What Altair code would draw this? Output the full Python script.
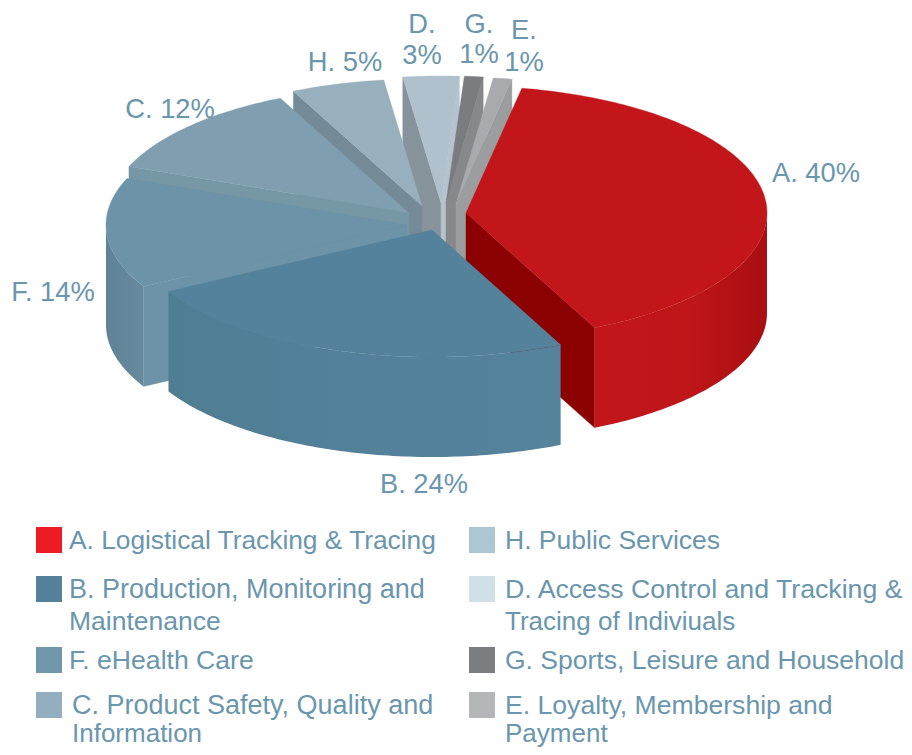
import math
import altair as alt
import pandas as pd

# ---- values
codes = ["A", "B", "F", "C", "H", "D", "G", "E"]
shares = [40, 24, 14, 12, 5, 3, 1, 1]
legend_left = [["A. Logistical Tracking & Tracing"], ["B. Production, Monitoring and", "Maintenance"],
               ["F. eHealth Care"], ["C. Product Safety, Quality and", "Information"]]
legend_right = [["H. Public Services"], ["D. Access Control and Tracking &", "Tracing of Indiviuals"],
                ["G. Sports, Leisure and Household"], ["E. Loyalty, Membership and", "Payment"]]
legend_colors_left = ["#ed1c24", "#55829a", "#7097aa", "#93afbf"]
legend_colors_right = ["#adc6d4", "#d0e0e7", "#7c7d80", "#b5b6b8"]

# ---- styling / layout
TOP = dict(A="#c2161b", B="#54829a", F="#6c93a7", C="#7f9eaf", H="#98afbd", D="#b0c0cc", G="#7a7c7f", E="#a9aaad")
START = dict(F="#6c93a7", C="#7697a5", H="#748a97", D="#87939a")
END = dict(A="#8b0000", D="#b4c3ce", G="#86888a", E="#9c9d9f")
SIDE = dict(A=[("#c2161b", 0), ("#bf161a", 0.55), ("#a90e10", 1)],
            B=[("#4f7d92", 0), ("#53819a", 0.5), ("#55839b", 1)],
            F=[("#5f8297", 0), ("#678a9d", 1)])
APEX = dict(A=(466, 213), B=(432, 230), F=(407, 225), C=(409, 213), H=(422, 206), D=(441, 203), G=(446, 203), E=(456, 204))
RX, RY, DEPTH, THETA0 = 301, 127, 100, 10.7
PAINT_ORDER = ["D", "G", "E", "H", "C", "F", "A", "B"]
TEXT = "#6a96ae"
FONT = "Liberation Sans"
LABEL_FS = 27.3
LEGEND_FS = {"A. Log": 26.3, "H. Pub": 26.5, "F. eHe": 26.6, "Mainte": 26.5, "Tracin": 26.0,
             "Inform": 26.0, "Paymen": 26.0, "E. Loy": 26.6, "G. Spo": 26.5, "D. Acc": 26.7}
X = alt.Scale(domain=[8, 904], nice=False, zero=False)
Y = alt.Scale(domain=[8, 747], nice=False, zero=False, reverse=True)

def ell(code, t):
    ax, ay = APEX[code]
    r = math.radians(t)
    return ax + RX * math.sin(r), ay - RY * math.cos(r)

spans = {}
t = THETA0
for c, s in zip(codes, shares):
    spans[c] = (t, t + s * 3.6)
    t += s * 3.6

def arc(code, a, b):
    n = max(2, int(abs(b - a)) + 2)
    return [ell(code, a + (b - a) * i / (n - 1)) for i in range(n)]

def poly(pts, fill):
    df = pd.DataFrame({"px": [p[0] for p in pts] + [pts[0][0]],
                       "py": [p[1] for p in pts] + [pts[0][1]]})
    df["i"] = range(len(df))
    stroke = fill if isinstance(fill, str) else "transparent"
    return alt.Chart(df).mark_line(filled=True, fill=fill, stroke=stroke, strokeWidth=0.4, interpolate="linear").encode(
        x=alt.X("px:Q", scale=X, axis=None),
        y=alt.Y("py:Q", scale=Y, axis=None),
        order="i:Q")

def grad(stops):
    return alt.Gradient(gradient="linear", x1=0, x2=1, y1=0, y2=0,
                        stops=[alt.GradientStop(color=c, offset=o) for c, o in stops])

layers = []
for c in PAINT_ORDER:
    a, b = spans[c]
    apex = APEX[c]
    if c in START:
        p = ell(c, a)
        layers.append(poly([apex, p, (p[0], p[1] + DEPTH), (apex[0], apex[1] + DEPTH)], START[c]))
    if c in END:
        p = ell(c, b)
        layers.append(poly([apex, p, (p[0], p[1] + DEPTH), (apex[0], apex[1] + DEPTH)], END[c]))
    if c in SIDE:
        lo, hi = max(a, 90), min(b, 270)
        top = arc(c, lo, hi)
        bot = [(x, y + DEPTH) for x, y in reversed(top)]
        layers.append(poly(top + bot, grad(SIDE[c])))
    layers.append(poly([apex] + arc(c, a, b), TOP[c]))

# ---- pie labels (drawn beneath the pie)
lab = pd.DataFrame({
    "t": ["A. 40%", "B. 24%", "F. 14%", "C. 12%", "H. 5%", "D.", "3%", "G.", "1%", "E.", "1%"],
    "px": [816, 424, 53, 170, 345, 422, 422, 479, 479, 524, 524],
    "py": [174, 485, 293, 110, 63, 25, 56, 25, 55, 31, 63]})
labels = alt.Chart(lab).mark_text(font=FONT, fontSize=LABEL_FS, color=TEXT, align="center", baseline="middle").encode(
    x=alt.X("px:Q", scale=X, axis=None), y=alt.Y("py:Q", scale=Y, axis=None), text="t:N")

# ---- legend
rows_y = [541, 590, 661, 706]
line_gaps = [32, 32, 32, 28]
sq = []
txt = []
for col, (items, cols, sx, tx) in enumerate([(legend_left, legend_colors_left, 36, 69), (legend_right, legend_colors_right, 469, 505)]):
    for r, (lines, colr) in enumerate(zip(items, cols)):
        sq.append(dict(x0=sx, x1=sx + 26, y0=rows_y[r] - 14, y1=rows_y[r] + 12, c=colr))
        off = 3 if (col == 0 and r == 3) else 0
        for k, ln in enumerate(lines):
            txt.append(dict(t=ln, px=tx + off, py=rows_y[r] + k * line_gaps[r], fs=LEGEND_FS.get(ln[:6], 27.0)))
squares = alt.Chart(pd.DataFrame(sq)).mark_rect().encode(
    x=alt.X("x0:Q", scale=X, axis=None), x2="x1:Q",
    y=alt.Y("y0:Q", scale=Y, axis=None), y2="y1:Q",
    color=alt.Color("c:N", scale=None, legend=None))
legend_text = alt.Chart(pd.DataFrame(txt)).mark_text(font=FONT, color=TEXT, align="left", baseline="middle").encode(
    x=alt.X("px:Q", scale=X, axis=None), y=alt.Y("py:Q", scale=Y, axis=None), text="t:N",
    size=alt.Size("fs:Q", scale=None, legend=None))

chart = alt.layer(labels, *layers, squares, legend_text).properties(
    width=896, height=739, padding=0, autosize=alt.AutoSizeParams(type="none")
).configure_view(stroke=None).resolve_scale(color="independent")
chart.save("out.html", embed_options={"renderer": "svg", "actions": False})
